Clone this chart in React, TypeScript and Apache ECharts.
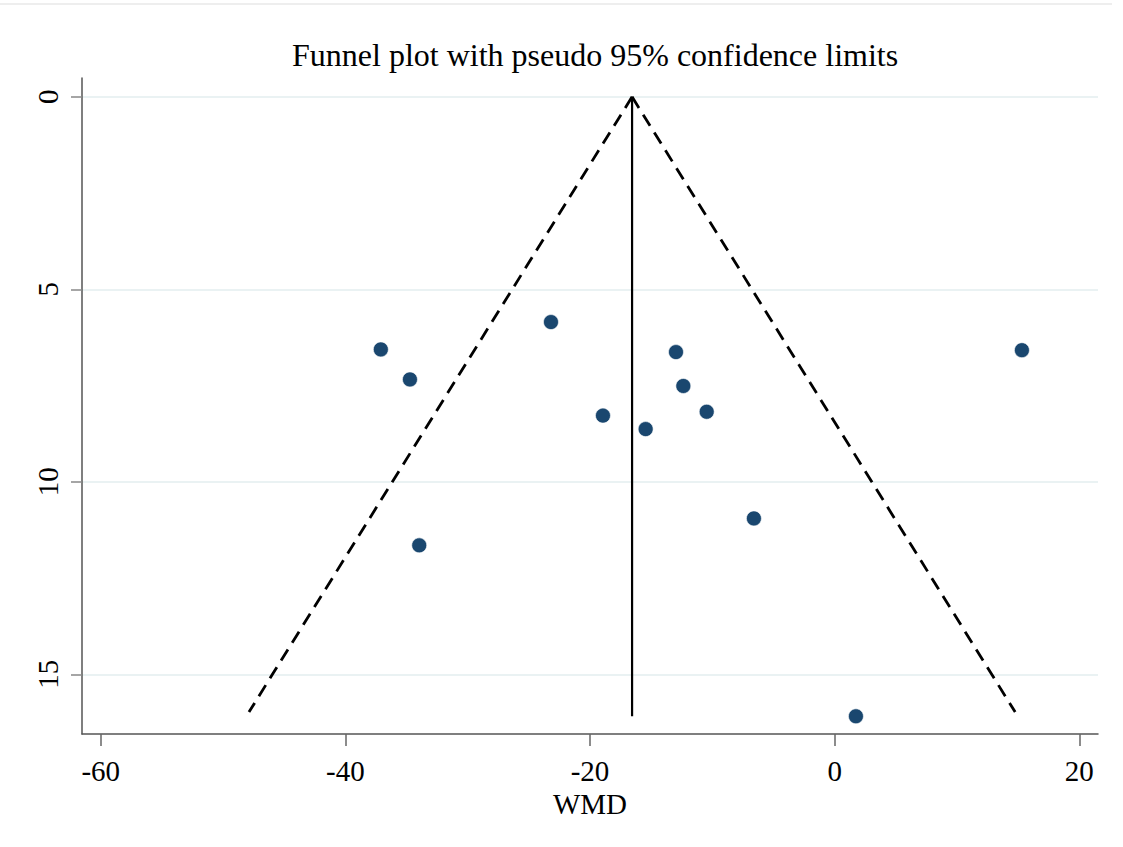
import React, { useEffect, useRef } from "react";
import * as echarts from "echarts";

// Study effects (WMD) and their standard errors
const wmd = [-37.1, -34.72, -23.19, -18.94, -12.97, -12.37, -10.46, -15.45, 15.31, -6.6, -33.96, 1.74];
const se = [6.56, 7.34, 5.85, 8.28, 6.63, 7.51, 8.18, 8.63, 6.58, 10.95, 11.65, 16.09];

// Pooled estimate and pseudo 95% limits
const pooled = -16.56;
const seMax = 16.09;
const limitSe = 15.98;
const lowerLimitX = -47.88;
const upperLimitX = 14.76;

const xTicks = [-60, -40, -20, 0, 20];
const yTicks = [0, 5, 10, 15];
const xRange = [-61.53, 21.53];
const yRange = [-0.49, 16.55];

const titleText = "Funnel plot with pseudo 95% confidence limits";
const xName = "WMD";

const FONT = "'Liberation Serif', 'Times New Roman', serif";

export default function App() {
  const ref = useRef<HTMLDivElement>(null);
  useEffect(() => {
    document.body.style.margin = "0";
    const chart = echarts.init(ref.current!, null, { renderer: "svg" });
    const points = wmd.map((x, i) => [x, se[i]]);
    chart.setOption({
      animation: false,
      backgroundColor: "#ffffff",
      title: {
        text: titleText,
        left: 292,
        top: 39,
        padding: 0,
        textStyle: { fontFamily: FONT, fontSize: 32, fontWeight: "normal", color: "#000" },
      },
      graphic: [
        {
          type: "line",
          shape: { x1: 0, y1: 4, x2: 1112, y2: 4 },
          style: { stroke: "#eeeeee", lineWidth: 2 },
        },
      ],
      grid: { left: 82, right: 25, top: 78, bottom: 113, containLabel: false },
      xAxis: {
        type: "value",
        min: xRange[0],
        max: xRange[1],
        name: xName,
        nameLocation: "middle",
        nameGap: 52,
        nameTextStyle: { fontFamily: FONT, fontSize: 29, color: "#000" },
        axisLine: { show: true, onZero: false, lineStyle: { color: "#555", width: 1.5 } },
        axisTick: { show: true, length: 12, customValues: xTicks, lineStyle: { color: "#666", width: 1.5 } },
        axisLabel: {
          customValues: xTicks,
          margin: 22,
          fontFamily: FONT,
          fontSize: 29,
          color: "#000",
          formatter: (v: number) => String(v),
        },
        splitLine: { show: false },
      },
      yAxis: {
        type: "value",
        inverse: true,
        min: yRange[0],
        max: yRange[1],
        axisLine: { show: true, onZero: false, lineStyle: { color: "#555", width: 1.5 } },
        axisTick: { show: true, length: 11, customValues: yTicks, lineStyle: { color: "#888", width: 1.5 } },
        axisLabel: {
          customValues: yTicks,
          rotate: 90,
          margin: 20,
          fontFamily: FONT,
          fontSize: 29,
          color: "#000",
          formatter: (v: number) => String(v),
        },
        splitLine: { show: true, lineStyle: { color: "#eaf2f3", width: 2 } },
      },
      series: [
        {
          type: "line",
          data: [[pooled, 0], [lowerLimitX, limitSe]],
          symbol: "none",
          lineStyle: { color: "#000", width: 2.8, type: [13, 8] },
          z: 2,
        },
        {
          type: "line",
          data: [[pooled, 0], [upperLimitX, limitSe]],
          symbol: "none",
          lineStyle: { color: "#000", width: 2.8, type: [13, 8] },
          z: 2,
        },
        {
          type: "line",
          data: [[pooled, 0], [pooled, seMax]],
          symbol: "none",
          lineStyle: { color: "#000", width: 2.2 },
          z: 2,
        },
        {
          type: "scatter",
          data: points,
          symbol: "circle",
          symbolSize: 15,
          itemStyle: { color: "#1a476f", opacity: 1, borderColor: "#ffffff", borderWidth: 0.6 },
          z: 3,
        },
      ],
    });
    return () => chart.dispose();
  }, []);
  return <div ref={ref} style={{ width: 1123, height: 847 }} />;
}
